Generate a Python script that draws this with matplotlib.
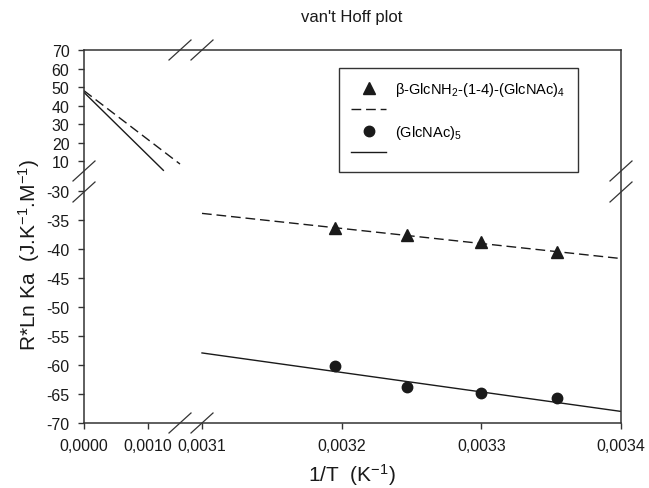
import matplotlib
matplotlib.use('Agg')
import matplotlib.pyplot as plt
import numpy as np
from matplotlib.lines import Line2D
from matplotlib.ticker import FuncFormatter

plt.rcParams['font.family'] = ['Liberation Sans', 'DejaVu Sans']
plt.rcParams['mathtext.fontset'] = 'custom'
plt.rcParams['mathtext.rm'] = 'Liberation Sans'
plt.rcParams['mathtext.it'] = 'Liberation Sans:italic'

# 1/T (K^-1) and R*ln Ka (J K^-1 M^-1)
inv_t = [0.003195, 0.003247, 0.003300, 0.003354]
ka_tri = [-36.3, -37.6, -38.7, -40.5]
ka_circ = [-60.1, -63.8, -64.8, -65.7]

# linear fits in the data region
fit_x = [0.0031, 0.0034]
fit_tri = [-33.8, -41.6]
fit_circ = [-57.9, -68.0]

# fits extrapolated towards 1/T = 0 (upper left part)
ext_tri_x = [0.0, 0.0015]
ext_tri_y = [48.0, 8.4]
ext_circ_x = [0.0, 0.00124]
ext_circ_y = [47.1, 5.0]

xticks = [0.0, 0.0010, 0.0031, 0.0032, 0.0033, 0.0034]
yticks = [-70, -65, -60, -55, -50, -45, -40, -35, -30, 10, 20, 30, 40, 50, 60, 70]

label_tri = r'β-GlcNH$_2$-(1-4)-(GlcNAc)$_4$'
label_circ = r'(GlcNAc)$_5$'

W, H = 649, 489


def piecewise(knots, vals):
    k = np.asarray(knots, float)
    v = np.asarray(vals, float)

    def make(a_pts, b_pts):
        s0 = (b_pts[1] - b_pts[0]) / (a_pts[1] - a_pts[0])
        s1 = (b_pts[-1] - b_pts[-2]) / (a_pts[-1] - a_pts[-2])

        def f(a):
            a = np.asarray(a, float)
            out = np.interp(a, a_pts, b_pts)
            out = np.where(a < a_pts[0], b_pts[0] + (a - a_pts[0]) * s0, out)
            out = np.where(a > a_pts[-1], b_pts[-1] + (a - a_pts[-1]) * s1, out)
            return out
        return f
    return make(k, v), make(v, k)


fig = plt.figure(figsize=(W / 100, H / 100), dpi=100)
ax = fig.add_axes([84 / W, 65 / H, 537 / W, 373 / H])

# broken axes: 0..0.0015 | 0.0031..0.0034 and -70..-30 | 5..70
ax.set_xscale('function', functions=piecewise([0, 0.0015, 0.0031, 0.0034], [0, 96, 118, 537]))
ax.set_yscale('function', functions=piecewise([-70, -30, 5, 70], [0, 231, 252, 372]))
ax.set_xlim(0, 0.0034)
ax.set_ylim(-70, 70)

ink = '#1a1a1a'
ax.plot(fit_x, fit_tri, color=ink, lw=1.0, dashes=(7, 3.5))
ax.plot(fit_x, fit_circ, color=ink, lw=1.0)
ax.plot(ext_tri_x, ext_tri_y, color=ink, lw=1.0, dashes=(7, 3.5))
ax.plot(ext_circ_x, ext_circ_y, color=ink, lw=1.0)
ax.plot(inv_t, ka_tri, ls='none', marker='^', ms=8, color=ink)
ax.plot(inv_t, ka_circ, ls='none', marker='o', ms=7.5, color=ink)

ax.set_xticks(xticks)
ax.set_yticks(yticks)
ax.xaxis.set_major_formatter(FuncFormatter(lambda v, p: f'{v:.4f}'.replace('.', ',')))
ax.yaxis.set_major_formatter(FuncFormatter(lambda v, p: f'{v:.0f}'))
ax.minorticks_off()
ax.tick_params(direction='out', length=4.5, width=1, color='#333333',
               labelsize=11.5, labelcolor=ink)
ax.tick_params(axis='x', pad=6)
ax.tick_params(axis='y', pad=6)
for s in ax.spines.values():
    s.set_color('#333333')
    s.set_linewidth(1.1)

# break marks on the frame
def brk(px, py):
    fig.add_artist(Line2D([(px - 11) / W, (px + 11) / W],
                          [1 - (py + 10) / H, 1 - (py - 10) / H],
                          transform=fig.transFigure, color='#333333', lw=0.9))

for bx in (180, 202):
    brk(bx, 51)
    brk(bx, 424)
for by in (172, 193):
    brk(84, by)
    brk(621, by)

handles = [Line2D([], [], ls='none', marker='^', ms=8, color=ink),
           Line2D([], [], color=ink, lw=1.0, dashes=(7, 3.5)),
           Line2D([], [], ls='none', marker='o', ms=7.5, color=ink),
           Line2D([], [], color=ink, lw=1.0)]
leg = ax.legend(handles, [label_tri, ' ', label_circ, ' '],
                loc='upper left', bbox_to_anchor=(339 / W, 1 - 69 / H),
                bbox_transform=fig.transFigure, borderaxespad=0,
                fontsize=10.5, frameon=True, fancybox=False, framealpha=1,
                edgecolor='#333333', handlelength=2.4, handletextpad=0.6,
                labelspacing=0.35, borderpad=0.85, numpoints=1)
leg.get_frame().set_linewidth(1.0)

fig.text(352 / W, 1 - 22 / H, "van't Hoff plot", ha='center', va='baseline',
         fontsize=12, color=ink)
fig.text(352 / W, 1 - 482 / H, r'1/T  (K$^{-1}$)', ha='center', va='baseline',
         fontsize=15, color=ink)
fig.text(36 / W, 1 - 255 / H, r'R*Ln Ka  (J.K$^{-1}$.M$^{-1}$)', ha='center',
         va='baseline', rotation=90, rotation_mode='anchor', fontsize=15, color=ink)

fig.savefig('out.png', dpi=100)
